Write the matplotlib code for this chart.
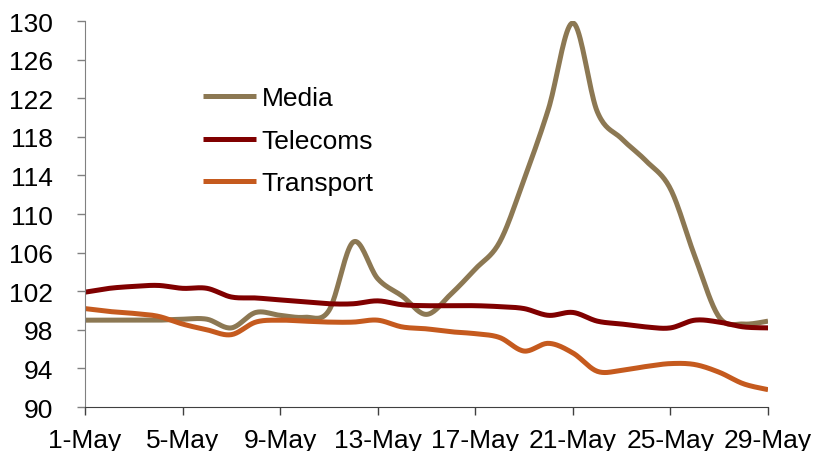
import numpy as np
import matplotlib.pyplot as plt

plt.rcParams['font.family'] = ['Liberation Sans', 'DejaVu Sans']

days = list(range(1, 30))
tick_days = [1, 5, 9, 13, 17, 21, 25, 29]
tick_labels = ['%d-May' % d for d in tick_days]

media = [99.0, 99.0, 99.0, 99.0, 99.1, 99.1, 98.2, 99.8, 99.5, 99.3,
         100.0, 107.1, 103.3, 101.5, 99.6, 101.7, 104.3, 107.1, 113.6, 120.9,
         129.8, 120.6, 117.8, 115.5, 112.6, 105.6, 99.3, 98.6, 98.9]
telecoms = [101.9, 102.3, 102.5, 102.6, 102.3, 102.3, 101.4, 101.3, 101.1, 100.9,
            100.7, 100.7, 101.0, 100.6, 100.5, 100.5, 100.5, 100.4, 100.2, 99.5,
            99.8, 98.9, 98.6, 98.3, 98.2, 99.0, 98.8, 98.3, 98.2]
transport = [100.2, 99.9, 99.7, 99.4, 98.6, 98.0, 97.5, 98.8, 99.0, 98.9,
             98.8, 98.8, 99.0, 98.3, 98.1, 97.8, 97.6, 97.2, 95.8, 96.6,
             95.6, 93.7, 93.8, 94.2, 94.5, 94.4, 93.6, 92.4, 91.8]

series = [('Media', media, '#8c7853'),
          ('Telecoms', telecoms, '#800000'),
          ('Transport', transport, '#c55a1e')]


def smooth(x, y, n=20):
    # catmull-rom curve through every point, like a spreadsheet "smoothed line"
    x = np.asarray(x, float)
    y = np.asarray(y, float)
    px = np.concatenate([[x[0]], x, [x[-1]]])
    py = np.concatenate([[y[0]], y, [y[-1]]])
    xs, ys = [], []
    t = np.linspace(0, 1, n, endpoint=False)
    for i in range(1, len(px) - 2):
        for p, out in ((px, xs), (py, ys)):
            p0, p1, p2, p3 = p[i - 1], p[i], p[i + 1], p[i + 2]
            c1 = p1 + (p2 - p0) / 6.0
            c2 = p2 - (p3 - p1) / 6.0
            out.extend((1 - t) ** 3 * p1 + 3 * (1 - t) ** 2 * t * c1
                       + 3 * (1 - t) * t ** 2 * c2 + t ** 3 * p2)
    xs.append(x[-1])
    ys.append(y[-1])
    return xs, ys


fig = plt.figure(figsize=(8.21, 4.52), dpi=100)
ax = fig.add_axes([0.1035, 0.0973, 0.832, 0.854])

for name, vals, col in series:
    sx, sy = smooth(days, vals)
    ax.plot(sx, sy, color=col, lw=3.6, label=name, solid_capstyle='butt')

ax.set_xlim(1, 29)
ax.set_ylim(90, 130)
ax.set_yticks(range(90, 131, 4))
ax.set_xticks(tick_days)
ax.set_xticklabels(tick_labels)
ax.tick_params(labelsize=19, length=5.8, width=1)
ax.tick_params(axis='y', pad=17, color='#808080')
ax.tick_params(axis='x', pad=9, color='#404040')

for s in ['top', 'right']:
    ax.spines[s].set_visible(False)
ax.spines['left'].set_color('#808080')
ax.spines['bottom'].set_color('#404040')

ax.legend(loc='upper left', bbox_to_anchor=(0.157, 0.858), frameon=False,
          fontsize=19, handlelength=2.0, handletextpad=0.23, labelspacing=0.7,
          borderaxespad=0)

fig.savefig('out.png', dpi=100)
